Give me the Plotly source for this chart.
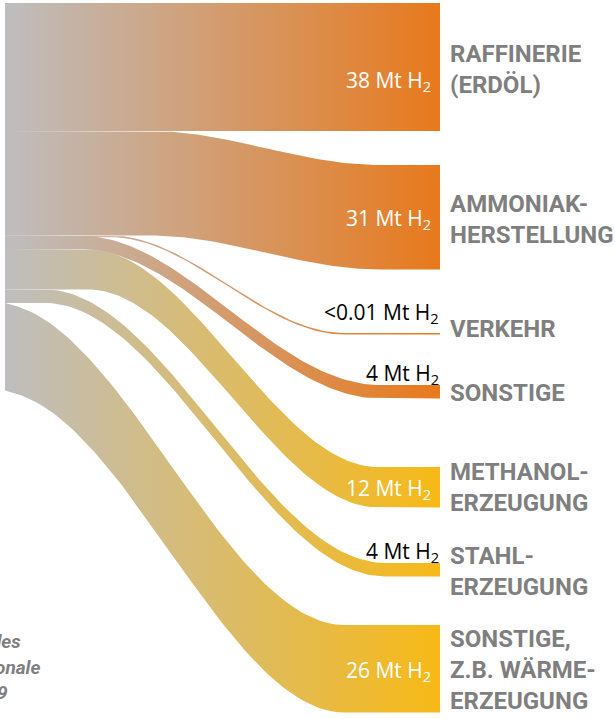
import plotly.graph_objects as go

# ---------------- data ----------------
categories = ["RAFFINERIE<br>(ERDÖL)", "AMMONIAK-<br>HERSTELLUNG", "VERKEHR", "SONSTIGE",
              "METHANOL-<br>ERZEUGUNG", "STAHL-<br>ERZEUGUNG", "SONSTIGE,<br>Z.B. WÄRME-<br>ERZEUGUNG"]
values_mt = [38, 31, 0.01, 4, 12, 4, 26]
value_labels = ["38 Mt H<sub>2</sub>", "31 Mt H<sub>2</sub>", "<0.01 Mt H<sub>2</sub>", "4 Mt H<sub>2</sub>",
                "12 Mt H<sub>2</sub>", "4 Mt H<sub>2</sub>", "26 Mt H<sub>2</sub>"]
groups = ["orange", "orange", "orange", "orange", "yellow", "yellow", "yellow"]
source_note = ["des", "onale", "9"]

# ---------------- layout / style ----------------
W, H = 615, 719
PX_PER_MT = 3.37
X_LEFT, X_RIGHT = 5, 440
SRC_TOP = 3
target_top_px = [3, 165, 333, 385, 467, 563, 625]
curve_span = [(5, 440), (150, 380), (110, 345), (80, 380), (88, 378), (45, 385), (-5, 345)]
value_label_dy = [14, 2, -3, 5.5, 2, 6, 2]
category_label_dy = [2, 2, -5, 1, 0, 2, 1]
CURV = 0.35
MIN_THICK = 1.6
GRAY = "#BEBEBF"
END_COL = {"orange": "#E8791C", "yellow": "#F7B916"}
LABEL_GRAY = "#7F7F7F"


def bez(y0, y1, xa, xb, n=80):
    pts = [(X_LEFT, y0)]
    d = xb - xa
    p0, p1, p2, p3 = (xa, y0), (xa + CURV * d, y0), (xb - CURV * d, y1), (xb, y1)
    for i in range(n + 1):
        t = i / n
        a, b, c, e = (1 - t) ** 3, 3 * t * (1 - t) ** 2, 3 * t ** 2 * (1 - t), t ** 3
        x = a * p0[0] + b * p1[0] + c * p2[0] + e * p3[0]
        y = a * p0[1] + b * p1[1] + c * p2[1] + e * p3[1]
        if x >= X_LEFT:
            pts.append((x, y))
    pts.append((X_RIGHT, y1))
    return pts


fig = go.Figure()
src_y = SRC_TOP
annotations = []
for i, v in enumerate(values_mt):
    thick = max(v * PX_PER_MT, MIN_THICK)
    s0, s1 = src_y, src_y + thick
    t0, t1 = target_top_px[i], target_top_px[i] + thick
    xa, xb = curve_span[i]
    top = bez(s0, t0, xa, xb)
    bot = bez(s1, t1, xa, xb)[::-1]
    poly = top + bot + [top[0]]
    fig.add_trace(go.Scatter(
        x=[p[0] for p in poly], y=[p[1] for p in poly],
        mode="lines", line=dict(width=0), fill="toself",
        fillgradient=dict(type="horizontal",
                          colorscale=[[0, GRAY], [1, END_COL[groups[i]]]],
                          start=X_LEFT, stop=X_RIGHT),
        hoverinfo="skip", showlegend=False))
    src_y += v * PX_PER_MT

    big = v >= 10
    annotations.append(dict(
        x=433 if big else 441,
        y=((t0 + t1) / 2 if big else t0) + value_label_dy[i],
        xanchor="right", yanchor="middle" if big else "bottom",
        text=value_labels[i], showarrow=False,
        font=dict(family="Open Sans, Noto Sans, sans-serif", size=21,
                  color="white" if big else "black")))
    annotations.append(dict(
        x=448, y=(t0 + t1) / 2 + category_label_dy[i], xanchor="left", yanchor="middle",
        align="left", text=categories[i], showarrow=False,
        font=dict(family="Roboto, Liberation Sans, sans-serif", size=24,
                  color=LABEL_GRAY, weight="bold")))

note_right = [23, 42, 10]
note_y = [641, 667, 692]
for txt, xr, yy in zip(source_note, note_right, note_y):
    annotations.append(dict(x=xr, y=yy, xanchor="right", yanchor="middle", text=txt,
                            showarrow=False,
                            font=dict(family="Roboto, sans-serif", size=19, color=LABEL_GRAY,
                                      weight="bold", style="italic")))

fig.update_layout(
    width=W, height=H, margin=dict(l=0, r=0, t=0, b=0),
    paper_bgcolor="white", plot_bgcolor="white",
    xaxis=dict(range=[0, W], visible=False, fixedrange=True),
    yaxis=dict(range=[H, 0], visible=False, fixedrange=True),
    annotations=annotations,
)
fig.write_html("out.html")
